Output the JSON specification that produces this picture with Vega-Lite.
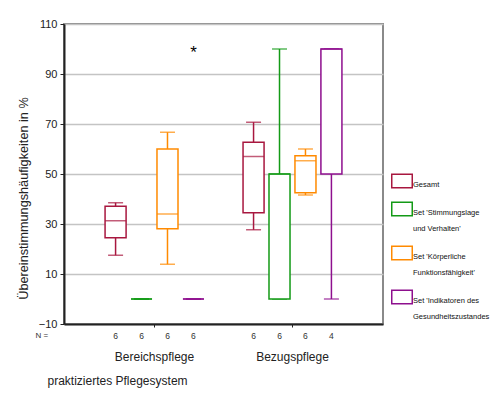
{
  "$schema": "https://vega.github.io/schema/vega-lite/v6.json",
  "autosize": {"type": "none"},
  "padding": {"left": 64, "top": 24, "right": 115, "bottom": 72},
  "width": 319,
  "height": 300,
  "background": "white",
  "config": {
    "font": "Liberation Sans",
    "view": {"stroke": "#8a8a8a", "strokeWidth": 2},
    "axis": {"labelFont": "Liberation Sans", "titleFont": "Liberation Sans", "titleFontWeight": "normal", "labelColor": "#222", "titleColor": "#222"}
  },
  "datasets": {
    "boxes": [
      {"group": "Bereichspflege", "set": "Gesamt", "lo": 17.5, "q1": 24.5, "med": 31.3, "q3": 37.1, "hi": 38.5, "n": 6},
      {"group": "Bereichspflege", "set": "Set 'Stimmungslage und Verhalten'", "lo": 0, "q1": 0, "med": 0, "q3": 0, "hi": 0, "n": 6},
      {"group": "Bereichspflege", "set": "Set 'Körperliche Funktionsfähigkeit'", "lo": 13.9, "q1": 28.1, "med": 34, "q3": 60, "hi": 66.7, "n": 6},
      {"group": "Bereichspflege", "set": "Set 'Indikatoren des Gesundheitszustandes", "lo": 0, "q1": 0, "med": 0, "q3": 0, "hi": 0, "n": 6},
      {"group": "Bezugspflege", "set": "Gesamt", "lo": 27.7, "q1": 34.5, "med": 57, "q3": 62.7, "hi": 70.7, "n": 6},
      {"group": "Bezugspflege", "set": "Set 'Stimmungslage und Verhalten'", "lo": 0, "q1": 0, "med": 50, "q3": 50, "hi": 100, "n": 6},
      {"group": "Bezugspflege", "set": "Set 'Körperliche Funktionsfähigkeit'", "lo": 41.6, "q1": 42.5, "med": 55.3, "q3": 57.3, "hi": 60, "n": 6},
      {"group": "Bezugspflege", "set": "Set 'Indikatoren des Gesundheitszustandes", "lo": 0, "q1": 50, "med": 100, "q3": 100, "hi": 100, "n": 4}
    ],
    "outliers": [
      {"group": "Bereichspflege", "set": "Set 'Indikatoren des Gesundheitszustandes", "value": 100}
    ]
  },
  "data": {"name": "boxes"},
  "encoding": {
    "x": {
      "field": "group", "type": "nominal",
      "scale": {"paddingInner": 0, "paddingOuter": 0.156},
      "axis": {
        "title": "praktiziertes Pflegesystem",
        "labelAngle": 0, "labelFontSize": 12, "labelPadding": 24,
        "tickSize": 3, "tickColor": "#222", "domainColor": "#222", "domainWidth": 2,
        "titleFontSize": 12, "titleAnchor": "start", "titleAlign": "left", "titleX": -17, "titleY": 51,
        "grid": false
      }
    },
    "xOffset": {
      "field": "set", "type": "nominal",
      "sort": ["Gesamt", "Set 'Stimmungslage und Verhalten'", "Set 'Körperliche Funktionsfähigkeit'", "Set 'Indikatoren des Gesundheitszustandes"],
      "scale": {"paddingInner": 0.19, "paddingOuter": 0.753}
    }
  },
  "layer": [
    {
      "mark": {"type": "rule", "strokeWidth": 1.5},
      "encoding": {
        "y": {
          "field": "lo", "type": "quantitative",
          "scale": {"domain": [-10, 110], "nice": false, "zero": false},
          "axis": {
            "title": "Übereinstimmungshäufigkeiten in %",
            "values": [-10, 10, 30, 50, 70, 90, 110],
            "labelFontSize": 11, "labelPadding": 3, "tickSize": 4, "tickColor": "#222",
            "domainColor": "#222", "domainWidth": 2,
            "grid": true, "gridColor": "#c4c4c4", "gridWidth": 1.5,
            "titleFontSize": 12.7, "titlePadding": 8, "titleY": 174
          }
        },
        "y2": {"field": "hi"},
        "color": {
          "field": "set", "type": "nominal",
          "scale": {"domain": ["Gesamt", "Set 'Stimmungslage und Verhalten'", "Set 'Körperliche Funktionsfähigkeit'", "Set 'Indikatoren des Gesundheitszustandes"], "range": ["#a8173f", "#139a16", "#ff8a00", "#8e0f8e"]},
          "legend": {
            "title": null, "orient": "none", "legendX": 327, "legendY": 146,
            "symbolType": "M-1,-0.68H1V0.68H-1ZM-0.864,-0.544V0.544H0.864V-0.544Z", "symbolSize": 484, "symbolStrokeWidth": 0,
            "labelFont": "Liberation Sans", "labelFontSize": 7.5, "labelColor": "#111", "labelBaseline": "top", "labelOffset": 0,
            "labelLimit": 200, "rowPadding": 9,
            "labelExpr": "datum.label == \"Set 'Stimmungslage und Verhalten'\" ? [\"Set 'Stimmungslage\", \"und Verhalten'\"] : datum.label == \"Set 'Körperliche Funktionsfähigkeit'\" ? [\"Set 'Körperliche\", \"Funktionsfähigkeit'\"] : datum.label == \"Set 'Indikatoren des Gesundheitszustandes\" ? [\"Set 'Indikatoren des\", \"Gesundheitszustandes\"] : datum.label",
            "encode": {
              "symbols": {"update": {"fill": {"scale": "color", "field": "value"}, "strokeWidth": {"value": 0}}},
              "labels": {"update": {"lineHeight": {"value": 16}}}
            }
          }
        }
      }
    },
    {
      "mark": {"type": "tick", "thickness": 1.5, "size": 15},
      "encoding": {
        "y": {"field": "lo", "type": "quantitative"},
        "color": {"field": "set", "type": "nominal", "legend": null}
      }
    },
    {
      "mark": {"type": "tick", "thickness": 1.5, "size": 15},
      "encoding": {
        "y": {"field": "hi", "type": "quantitative"},
        "color": {"field": "set", "type": "nominal", "legend": null}
      }
    },
    {
      "mark": {"type": "bar", "filled": false, "fill": "white", "strokeWidth": 1.5},
      "encoding": {
        "y": {"field": "q1", "type": "quantitative"},
        "y2": {"field": "q3"},
        "color": {"field": "set", "type": "nominal", "legend": null}
      }
    },
    {
      "mark": {"type": "tick", "thickness": 1.5, "size": 21},
      "encoding": {
        "y": {"field": "med", "type": "quantitative"},
        "color": {"field": "set", "type": "nominal", "legend": null}
      }
    },
    {
      "mark": {"type": "text", "fontSize": 8.5, "baseline": "middle"},
      "encoding": {
        "y": {"datum": -14.6, "type": "quantitative"},
        "text": {"field": "n", "type": "quantitative"},
        "color": {"value": "#333"}
      }
    },
    {
      "data": {"values": [{"label": "N ="}]},
      "mark": {"type": "text", "fontSize": 8, "baseline": "middle", "align": "left", "dx": -119},
      "encoding": {
        "x": {"datum": "Bereichspflege"},
        "xOffset": null,
        "color": {"value": "#333"},
        "y": {"datum": -14.6, "type": "quantitative"},
        "text": {"field": "label", "type": "nominal"}
      }
    },
    {
      "data": {"name": "outliers"},
      "mark": {"type": "text", "fontSize": 17, "baseline": "middle", "dy": 4},
      "encoding": {
        "y": {"field": "value", "type": "quantitative"},
        "text": {"value": "*"},
        "color": {"value": "black"}
      }
    }
  ]
}
